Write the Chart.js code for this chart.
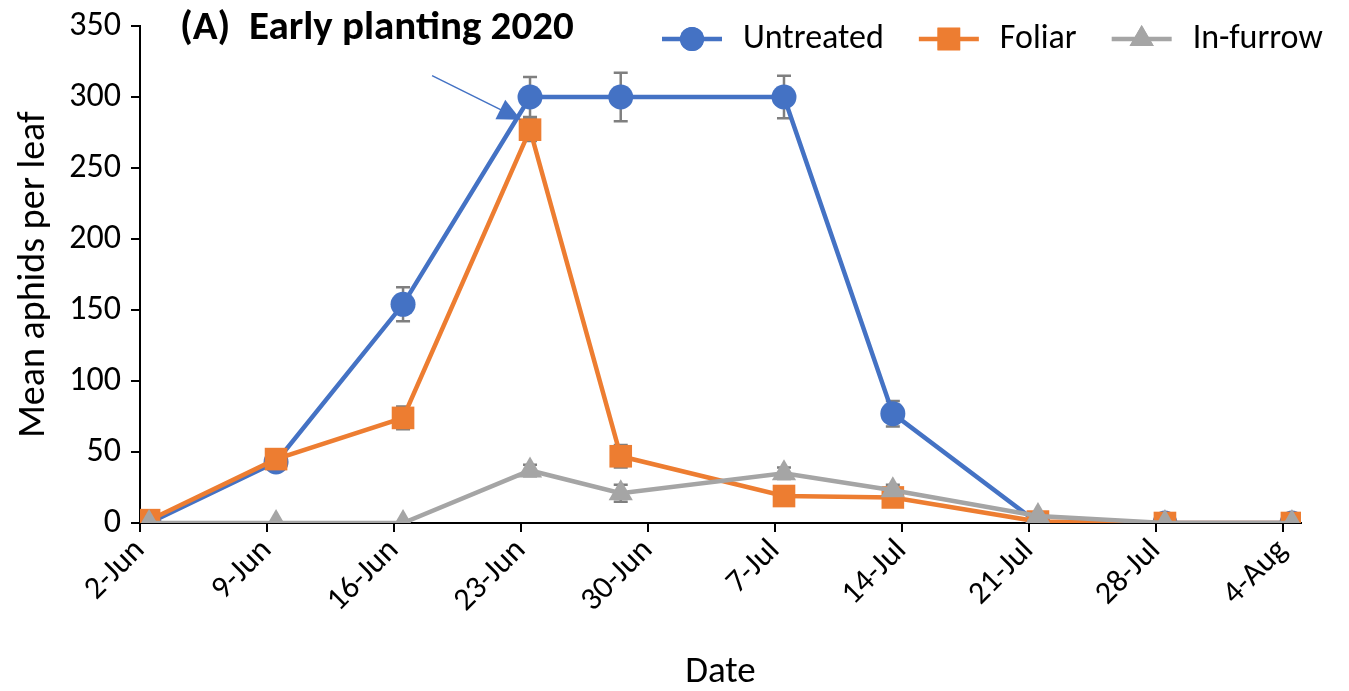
<!DOCTYPE html>
<html>
<head>
<meta charset="utf-8">
<script src="https://cdn.jsdelivr.net/npm/chart.js@4.4.1/dist/chart.umd.min.js"></script>
<style>
  html, body { margin: 0; padding: 0; background: #fff; }
  #wrap { position: relative; width: 1349px; height: 691px; }
</style>
</head>
<body>
<div id="wrap"><canvas id="line-chart" width="1349" height="691"></canvas></div>
<script>
// sampling dates (2020) and axis tick labels
var sampleDates = ["2-Jun", "9-Jun", "16-Jun", "23-Jun", "28-Jun", "7-Jul", "13-Jul", "21-Jul", "28-Jul", "4-Aug"];
var tickLabels = ["2-Jun", "9-Jun", "16-Jun", "23-Jun", "30-Jun", "7-Jul", "14-Jul", "21-Jul", "28-Jul", "4-Aug"];

// mean aphids per leaf
var untreated = [0, 43, 154, 300, 300, 300, 77, 0, 0, 0];
var foliar = [2, 45, 74, 277, 47, 19, 18, 1, 0, 0];
var inFurrow = [0, 0, 0, 37, 21, 35, 23, 5, 0, 0];

// standard errors
var untreatedErr = [0, 3, 12, 14, 17, 15, 9, 0, 0, 0];
var foliarErr = [0, 3, 8, 8, 8, 2, 2, 0, 0, 0];
var inFurrowErr = [0, 0, 0, 4, 6, 4, 4, 1, 0, 0];

var seriesNames = ["Untreated", "Foliar", "In-furrow"];
var seriesColors = ["#4472C4", "#ED7D31", "#A5A5A5"];

// arrow annotation [day, value] tail -> head
var arrowTail = [15.6, 315];
var arrowHead = [20.5, 284];

var FONT = "Carlito, Lato, 'Open Sans', sans-serif";

var months = { Jun: 5, Jul: 6, Aug: 7 };
function dayOf(label) {
  var p = label.split("-");
  var t = Date.UTC(2020, months[p[1]], +p[0]);
  return Math.round((t - Date.UTC(2020, 5, 2)) / 86400000);
}
function pts(values) {
  return values.map(function (v, i) { return { x: dayOf(sampleDates[i]), y: v }; });
}

Chart.defaults.font.family = FONT;
Chart.defaults.color = "#000";

var errorBars = {
  id: "errorBars",
  beforeDatasetsDraw: function (chart) {
    var errs = [untreatedErr, foliarErr, inFurrowErr];
    var ctx = chart.ctx, x = chart.scales.x, y = chart.scales.y;
    ctx.save();
    ctx.strokeStyle = "#7F7F7F";
    ctx.lineWidth = 2.5;
    chart.data.datasets.forEach(function (ds, d) {
      ds.data.forEach(function (p, i) {
        var e = errs[d][i];
        if (!e) return;
        var px = x.getPixelForValue(p.x);
        var top = y.getPixelForValue(p.y + e), bot = y.getPixelForValue(p.y - e);
        ctx.beginPath();
        ctx.moveTo(px, top); ctx.lineTo(px, bot);
        ctx.moveTo(px - 7, top); ctx.lineTo(px + 7, top);
        ctx.moveTo(px - 7, bot); ctx.lineTo(px + 7, bot);
        ctx.stroke();
      });
    });
    ctx.restore();
  },
};

var extras = {
  id: "extras",
  afterDraw: function (chart) {
    var ctx = chart.ctx, x = chart.scales.x, y = chart.scales.y;
    ctx.save();
    // arrow
    var x1 = x.getPixelForValue(arrowTail[0]), y1 = y.getPixelForValue(arrowTail[1]);
    var x2 = x.getPixelForValue(arrowHead[0]), y2 = y.getPixelForValue(arrowHead[1]);
    var a = Math.atan2(y2 - y1, x2 - x1);
    ctx.strokeStyle = "#4472C4";
    ctx.fillStyle = "#4472C4";
    ctx.lineWidth = 1.5;
    ctx.beginPath(); ctx.moveTo(x1, y1); ctx.lineTo(x2 - 16 * Math.cos(a), y2 - 16 * Math.sin(a)); ctx.stroke();
    ctx.beginPath();
    ctx.moveTo(x2, y2);
    ctx.lineTo(x2 - 23 * Math.cos(a) + 11 * Math.sin(a), y2 - 23 * Math.sin(a) - 11 * Math.cos(a));
    ctx.lineTo(x2 - 23 * Math.cos(a) - 11 * Math.sin(a), y2 - 23 * Math.sin(a) + 11 * Math.cos(a));
    ctx.closePath(); ctx.fill();

    // panel title
    ctx.fillStyle = "#000";
    ctx.font = "bold 41px " + FONT;
    ctx.textBaseline = "middle";
    ctx.textAlign = "left";
    ctx.fillText("(A)  Early planting 2020", 180, 29);

    // legend
    var styles = ["circle", "rect", "triangle"];
    var radii = [12, 16, 14];
    ctx.font = "34px " + FONT;
    var lx = 662, ly = 39;
    seriesNames.forEach(function (name, i) {
      ctx.strokeStyle = seriesColors[i];
      ctx.fillStyle = seriesColors[i];
      ctx.lineWidth = 4.5;
      ctx.beginPath(); ctx.moveTo(lx, ly); ctx.lineTo(lx + 60, ly); ctx.stroke();
      Chart.helpers.drawPoint(ctx, { pointStyle: styles[i], radius: radii[i], borderWidth: 0 }, lx + 30, ly);
      ctx.fill();
      ctx.fillStyle = "#000";
      ctx.fillText(name, lx + 81, ly);
      lx += 81 + ctx.measureText(name).width + 35;
    });
    ctx.restore();
  },
};

function series(i, values, style, radius, order) {
  return {
    label: seriesNames[i],
    data: pts(values),
    borderColor: seriesColors[i],
    backgroundColor: seriesColors[i],
    borderWidth: 4.5,
    pointStyle: style,
    pointRadius: radius,
    pointBorderWidth: 0,
    tension: 0,
    order: order,
  };
}

var config = {
  type: "line",
  data: {
    datasets: [
      series(0, untreated, "circle", 12.5, 3),
      series(1, foliar, "rect", 16, 2),
      series(2, inFurrow, "triangle", 14, 1),
    ],
  },
  options: {
    responsive: false,
    animation: false,
    layout: { padding: { top: 26, right: 48, left: 0, bottom: 0 } },
    plugins: { legend: { display: false }, tooltip: { enabled: false } },
    scales: {
      x: {
        type: "linear",
        min: -0.5,
        max: 63.5,
        afterFit: function (s) { s.height = 168; },
        afterBuildTicks: function (s) {
          s.ticks = tickLabels.map(function (l) { return { value: dayOf(l) - 0.5 }; });
        },
        ticks: {
          autoSkip: false,
          minRotation: 45,
          maxRotation: 45,
          font: { size: 32 },
          padding: 0,
          callback: function (v, i) { return tickLabels[i]; },
        },
        grid: { drawOnChartArea: false, drawTicks: true, tickLength: 9, color: "#000", lineWidth: 2 },
        border: { color: "#000", width: 2 },
        title: { display: true, text: "Date", font: { size: 37, lineHeight: 1 }, padding: { top: 0, bottom: 0 } },
      },
      y: {
        min: 0,
        max: 350,
        afterFit: function (s) { s.width = 140; s.paddingTop = 0; s.paddingBottom = 0; },
        ticks: { stepSize: 50, font: { size: 34 }, padding: 10 },
        grid: { drawOnChartArea: false, drawTicks: true, tickLength: 9, color: "#000", lineWidth: 2 },
        border: { color: "#000", width: 2 },
        title: { display: true, text: "Mean aphids per leaf", font: { size: 38 }, padding: { top: 12, bottom: 0 } },
      },
    },
  },
  plugins: [errorBars, extras],
};

var ctx = document.getElementById("line-chart").getContext("2d");
window.myLine = new Chart(ctx, config);
</script>
</body>
</html>
